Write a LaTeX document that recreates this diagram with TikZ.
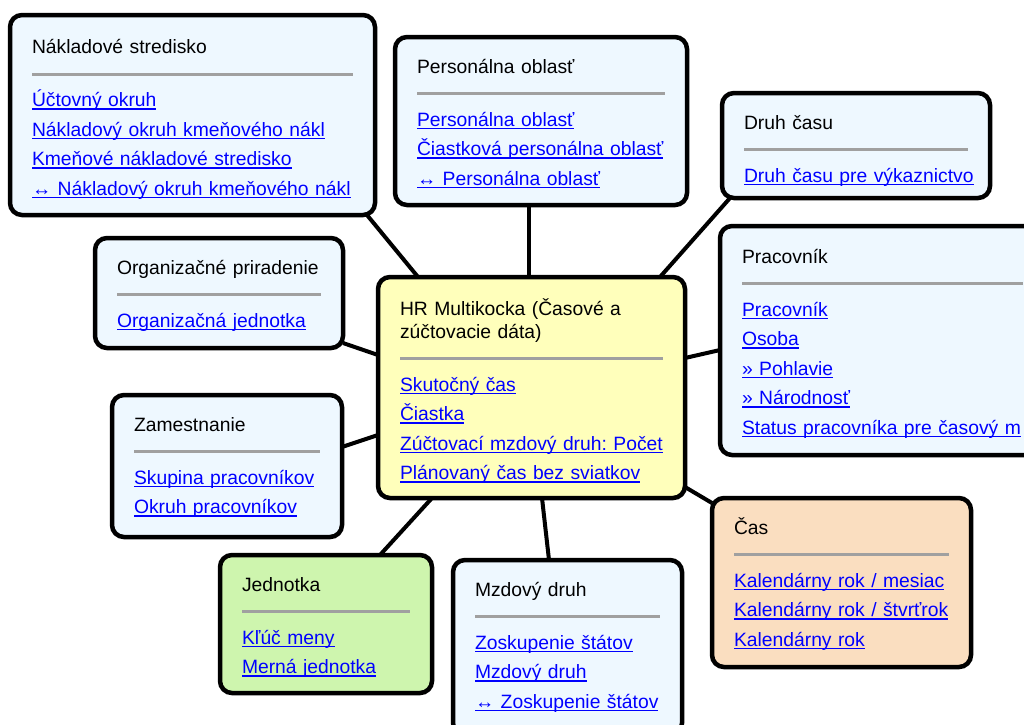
\documentclass[tikz,border=0pt]{standalone}
\usepackage{fontspec}
\setmainfont{Liberation Sans}
\usepackage{xcolor}
\usepackage{tikz}
\usetikzlibrary{backgrounds}
\definecolor{boxblue}{RGB}{238,248,255}
\definecolor{boxyellow}{RGB}{255,255,187}
\definecolor{boxgreen}{RGB}{206,245,174}
\definecolor{boxpeach}{RGB}{250,222,192}
\definecolor{linkblue}{RGB}{0,0,255}
\definecolor{rulegray}{RGB}{160,160,160}
\frenchspacing
\newsavebox{\lnkbox}
\newcommand{\lnk}[1]{\leavevmode{\color{linkblue}\sbox{\lnkbox}{\color{linkblue}#1}\rlap{\rule[-3pt]{\wd\lnkbox}{1.5pt}}\usebox{\lnkbox}}}
\newcommand{\cardrule}{\\[-3.1pt]\textcolor{rulegray}{\raisebox{4.2pt}{\rule{\linewidth}{3pt}}}\\[-3.1pt]}

\begin{document}
\begin{tikzpicture}[x=1pt, y=1pt,
    card/.style={draw=black, line width=4.5pt, rounded corners=12pt, anchor=north west,
      align=left, inner xsep=22pt, inner ysep=0pt, outer sep=0pt, text height=36pt,
      font=\fontsize{19.3}{29.6}\selectfont},
    link/.style={draw=black, line width=4pt}]
    \useasboundingbox (0,0) rectangle (1024,-724);
    % hub
    \node[card, fill=boxyellow, text width=263pt, text height=38pt, text depth=183pt] (hub) at (378,-277)
      {HR Multikocka (Časové a\\[-6.6pt]zúčtovacie dáta)\cardrule
       \lnk{Skutočný čas}\\ \lnk{Čiastka}\\ \lnk{Zúčtovací mzdový druh: Počet}\\
       \lnk{Plánovaný čas bez sviatkov}};
    % top row
    \node[card, fill=boxblue, text width=321pt, text height=38.5pt, text depth=161.5pt] (nak) at (10,-15)
      {Nákladové stredisko\cardrule
       \lnk{Účtovný okruh}\\ \lnk{Nákladový okruh kmeňového nákl}\\
       \lnk{Kmeňové nákladové stredisko}\\ \lnk{↔ Nákladový okruh kmeňového nákl}};
    \node[card, fill=boxblue, text width=248pt, text depth=132pt] (per) at (395,-37)
      {Personálna oblasť\cardrule
       \lnk{Personálna oblasť}\\ \lnk{Čiastková personálna oblasť}\\ \lnk{↔ Personálna oblasť}};
    \node[card, fill=boxblue, text width=224pt, text depth=69pt] (dru) at (722,-93)
      {Druh času\cardrule \lnk{Druh času pre výkaznictvo}};
    % right side
    \node[card, fill=boxblue, text width=281pt, text height=37pt, text depth=192pt] (pra) at (720,-226)
      {Pracovník\cardrule
       \lnk{Pracovník}\\ \lnk{Osoba}\\ \lnk{» Pohlavie}\\ \lnk{» Národnosť}\\
       \lnk{Status pracovníka pre časový m}};
    \node[card, fill=boxpeach, text width=215pt, text depth=133pt] (cas) at (712,-498)
      {Čas\cardrule
       \lnk{Kalendárny rok / mesiac}\\ \lnk{Kalendárny rok / štvrťrok}\\ \lnk{Kalendárny rok}};
    % left side
    \node[card, fill=boxblue, text width=204pt, text depth=74pt] (org) at (95,-238)
      {Organizačné priradenie\cardrule \lnk{Organizačná jednotka}};
    \node[card, fill=boxblue, text width=186pt, text depth=106pt] (zam) at (112,-395)
      {Zamestnanie\cardrule \lnk{Skupina pracovníkov}\\ \lnk{Okruh pracovníkov}};
    % bottom row
    \node[card, fill=boxgreen, text width=168pt, text depth=102pt] (jed) at (220,-555)
      {Jednotka\cardrule \lnk{Kľúč meny}\\ \lnk{Merná jednotka}};
    \node[card, fill=boxblue, text width=185pt, text depth=139pt] (mzd) at (453,-560)
      {Mzdový druh\cardrule
       \lnk{Zoskupenie štátov}\\ \lnk{Mzdový druh}\\ \lnk{↔ Zoskupenie štátov}};
    % spokes
    \begin{scope}[on background layer]
      \draw[link] ([xshift=40pt]hub.north west) -- ([xshift=-8pt]nak.south east);
      \draw[link] ([xshift=151pt]hub.north west) -- ([xshift=134pt]per.south west);
      \draw[link] ([xshift=282pt]hub.north west) -- ([xshift=8pt]dru.south west);
      \draw[link] ([yshift=-81pt]hub.north east) -- ([yshift=-124pt]pra.north west);
      \draw[link] ([yshift=11pt]hub.south east) -- ([yshift=-5pt]cas.north west);
      \draw[link] ([yshift=-78pt]hub.north west) -- ([yshift=-105pt]org.north east);
      \draw[link] ([yshift=-158pt]hub.north west) -- ([yshift=-52pt]zam.north east);
      \draw[link] ([xshift=54pt]hub.south west) -- ([xshift=160pt]jed.north west);
      \draw[link] ([xshift=164pt]hub.south west) -- ([xshift=96pt]mzd.north west);
    \end{scope}
\end{tikzpicture}
\end{document}
